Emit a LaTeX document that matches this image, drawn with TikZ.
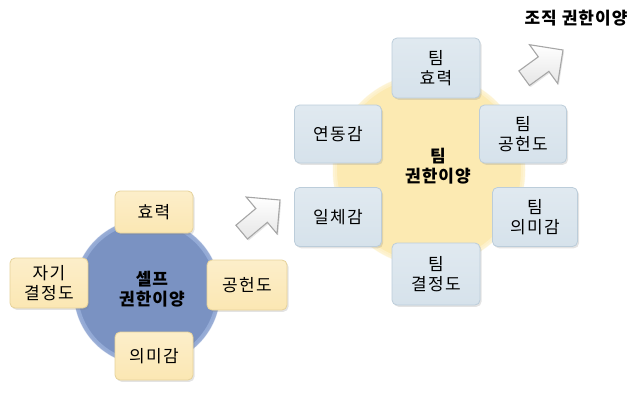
\documentclass[tikz,border=0pt]{standalone}
\usepackage{fontspec}
\setmainfont{Noto Sans CJK KR}
\usetikzlibrary{shadows}
\definecolor{ybox}{HTML}{FBE7B3}
\definecolor{yboxd}{HTML}{E6D29A}
\definecolor{bbox}{HTML}{D6E2EB}
\definecolor{bboxd}{HTML}{BCCDDA}
\definecolor{cb1}{HTML}{7A92C2}
\definecolor{cb2}{HTML}{93AAD6}
\definecolor{cb3}{HTML}{B8C8E8}
\definecolor{cy1}{HTML}{FCEAB2}
\definecolor{cy2}{HTML}{FDF0C8}
\definecolor{cy3}{HTML}{FEF7E2}
\tikzset{
  txt/.style={font=\fontsize{17}{20}\selectfont\addfontfeatures{LetterSpace=8}, align=center, text=black},
  btxt/.style={font=\fontsize{17}{20}\selectfont\bfseries\addfontfeatures{LetterSpace=6}, align=center, text=black},
  boxbase/.style={txt, rounded corners=5pt, line width=0.8pt, inner sep=0pt,
    drop shadow={opacity=0.22, shadow xshift=1.5pt, shadow yshift=-1.8pt}},
  ybx/.style={boxbase, draw=yboxd, top color=ybox!70!white, bottom color=ybox},
  bbx/.style={boxbase, draw=bboxd, top color=bbox!75!white, bottom color=bbox},
  hub/.style={circle, inner sep=0pt},
  bigarrow/.style={draw=black!35, line width=1.1pt, top color=white, bottom color=black!10, line join=miter,
    drop shadow={opacity=0.2, shadow xshift=1.2pt, shadow yshift=-1.5pt}},
}
\begin{document}
\begin{tikzpicture}[x=1pt,y=-1pt]
\useasboundingbox (0,0) rectangle (637,404);
% left hub
\node[hub, minimum size=146pt, fill=cb1] (lc) at (147,292) {};
\draw[cb3, line width=3pt, opacity=0.5] (lc.center) circle[radius=72pt];
\draw[cb2, line width=2pt] (lc.center) circle[radius=70pt];
\node[btxt] (lct) at (152,289) {셀프\\권한이양};
\node[ybx, minimum width=78pt, minimum height=42pt] (l1) at (154,212) {효력};
\node[ybx, minimum width=78pt, minimum height=50pt] (l2) at (49,283) {자기\\결정도};
\node[ybx, minimum width=80pt, minimum height=50pt] (l3) at (247,285) {공헌도};
\node[ybx, minimum width=78pt, minimum height=48pt] (l4) at (154,356) {의미감};
% right hub
\node[hub, minimum size=192pt, fill=cy1] (rc) at (429,170) {};
\draw[cy3, line width=3pt, opacity=0.7] (rc.center) circle[radius=95pt];
\draw[cy2, line width=2pt] (rc.center) circle[radius=93pt];
\node[btxt] (rct) at (438,166) {팀\\권한이양};
\node[bbx, minimum width=88pt, minimum height=60pt] (r1) at (436,68) {팀\\효력};
\node[bbx, minimum width=87pt, minimum height=58pt] (r2) at (338,134) {연동감};
\node[bbx, minimum width=87pt, minimum height=58pt] (r3) at (523,134) {팀\\공헌도};
\node[bbx, minimum width=87pt, minimum height=59pt] (r4) at (338,217) {일체감};
\node[bbx, minimum width=85pt, minimum height=59pt] (r5) at (535,217) {팀\\의미감};
\node[bbx, minimum width=88pt, minimum height=62pt] (r6) at (436,274) {팀\\결정도};
% arrows
\coordinate (a1) at (280,200);
\coordinate (a2) at (563,50);
\begin{scope}[shift={(a1)}, x=1pt, y=1pt, rotate=40]
  \path[bigarrow] (0,0) -- (-24,24) -- (-24,9) -- (-50,9) -- (-50,-9) -- (-24,-9) -- (-24,-24) -- cycle;
\end{scope}
\begin{scope}[shift={(a2)}, x=1pt, y=1pt, rotate=36]
  \path[bigarrow] (0,0) -- (-24,24) -- (-24,9) -- (-48,9) -- (-48,-9) -- (-24,-9) -- (-24,-24) -- cycle;
\end{scope}
\node[btxt] (org) at (576,18) {조직 권한이양};
\end{tikzpicture}
\end{document}
